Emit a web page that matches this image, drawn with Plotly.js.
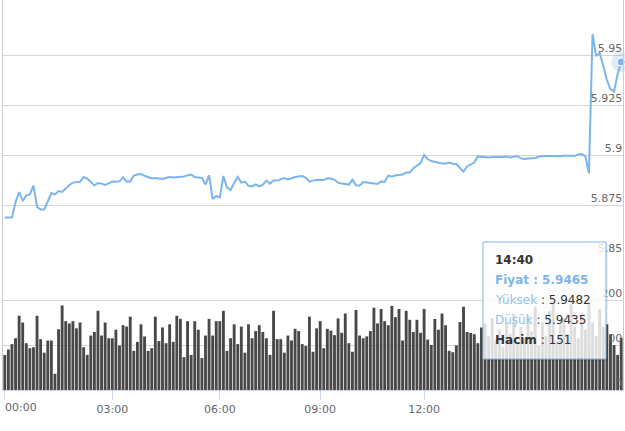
<!DOCTYPE html>
<html><head><meta charset="utf-8">
<script src="https://cdn.plot.ly/plotly-3.0.1.min.js"></script>
<style>html,body{margin:0;padding:0;background:#fff}#chart{width:625px;height:431px}</style>
</head><body><div id="chart"></div><script>
const price = [
5.8687,5.8687,5.8687,5.8765,5.8815,5.877,5.8798,5.8803,5.8847,5.874,
5.8728,5.8728,5.877,5.881,5.8803,5.882,5.8815,5.8833,5.885,5.8862,
5.8865,5.8866,5.889,5.8882,5.8865,5.8848,5.886,5.8857,5.885,5.8858,
5.8867,5.8866,5.8868,5.8888,5.8868,5.8868,5.8897,5.8902,5.8905,5.8896,
5.8888,5.8883,5.8885,5.8884,5.888,5.8886,5.889,5.8888,5.8889,5.889,
5.8893,5.8898,5.8902,5.889,5.8888,5.8885,5.8852,5.8898,5.878,5.8795,
5.8788,5.8895,5.8837,5.8825,5.886,5.889,5.8862,5.8867,5.8846,5.8843,
5.8853,5.8843,5.8852,5.8872,5.8857,5.8873,5.8872,5.888,5.8885,5.8878,
5.8885,5.889,5.8893,5.8895,5.8886,5.8867,5.8872,5.8876,5.8875,5.8875,
5.8884,5.8882,5.8876,5.8862,5.8857,5.8854,5.8852,5.8876,5.8848,5.8847,
5.8865,5.8863,5.886,5.8858,5.8855,5.8868,5.8865,5.8897,5.8893,5.8897,
5.8899,5.8902,5.8912,5.8912,5.8934,5.8946,5.896,5.9,5.898,5.897,
5.8966,5.896,5.8958,5.8958,5.8962,5.8956,5.8955,5.8935,5.8918,5.8943,
5.8953,5.8962,5.8993,5.8991,5.8991,5.8988,5.899,5.8989,5.8988,5.899,
5.8992,5.8988,5.8991,5.8995,5.8983,5.898,5.8982,5.8983,5.8985,5.8992,
5.8995,5.8995,5.8995,5.8994,5.8993,5.8994,5.8996,5.8997,5.8996,5.8995,
5.9003,5.9005,5.8993,5.8908,5.9605,5.9495,5.951,5.9445,5.9375,5.933,
5.9318,5.9405,5.9465
];
const volume = [
78,90,102,115,165,150,104,93,95,165,
113,83,110,110,36,135,188,153,148,153,
137,150,95,78,121,129,176,121,150,115,
115,134,99,144,141,163,87,107,146,119,
87,93,163,109,139,104,146,107,165,158,
73,153,78,153,134,71,121,158,121,153,
153,176,87,115,146,102,141,83,146,115,
131,144,129,115,78,176,113,113,83,121,
110,136,131,102,98,163,85,137,153,93,
136,132,122,159,127,170,104,85,178,121,
115,119,131,183,148,180,153,144,187,162,
180,110,176,156,129,156,127,180,112,100,
158,134,170,144,87,84,99,151,185,129,
127,124,104,139,148,120,160,110,135,95,
150,125,170,105,140,115,165,130,185,100,
150,120,175,195,110,145,160,125,190,140,
115,170,135,195,150,120,180,140,146,124,
100,78,116
];
const tickIdx = [0, 30, 60, 88, 117];
const tickLabels = ['00:00', '03:00', '06:00', '09:00', '12:00'];
const priceTicks = [5.85, 5.875, 5.9, 5.925, 5.95];
const priceTickText = ['5.85', '5.875', '5.9', '5.925', '5.95'];
const volumeTicks = [0, 100, 200];
const tipTime = '14:40';
const tipPrice = '5.9465';
const tipHigh = '5.9482';
const tipLow = '5.9435';
const tipVolume = '151';

const idx = price.map((_, i) => i);
const last = price.length - 1;
const FONT = 'DejaVu Sans';
const BLUE = '#7cb5ec';

const traces = [
  {type: 'bar', x: idx, y: volume, xaxis: 'x', yaxis: 'y2',
   marker: {color: '#484848', line: {width: 0}}, hoverinfo: 'skip'},
  {type: 'scatter', mode: 'lines', x: idx, y: price, xaxis: 'x', yaxis: 'y',
   line: {color: BLUE, width: 2}, hoverinfo: 'skip'},
  {type: 'scatter', mode: 'markers', x: [idx[last]], y: [price[last]], xaxis: 'x', yaxis: 'y',
   marker: {color: 'rgba(124,181,236,0.25)', size: 20}, cliponaxis: false, hoverinfo: 'skip'},
  {type: 'scatter', mode: 'markers', x: [idx[last]], y: [price[last]], xaxis: 'x', yaxis: 'y',
   marker: {color: BLUE, size: 8, line: {color: '#fff', width: 1}}, cliponaxis: false, hoverinfo: 'skip'}
];

const W = 620, H = 390, L = 3;
const px = v => (v - L) / W;
const py = v => (H - v) / H;
const tipX = px(493);
const tipLines = [
  {y: 259.5, t: '<b>' + tipTime + '</b>'},
  {y: 279.5, t: '<span style="color:' + BLUE + '"><b>Fiyat : ' + tipPrice + '</b></span>'},
  {y: 299.5, t: '<span style="color:#93c2ef">Yüksek</span> : ' + tipHigh},
  {y: 319.5, t: '<span style="color:#93c2ef">Düşük</span> : ' + tipLow},
  {y: 339.5, t: '<b>Hacim</b> : ' + tipVolume}
];
const annotations = tipLines.map(l => ({
  xref: 'paper', yref: 'paper', x: tipX, y: py(l.y), xanchor: 'left', yanchor: 'middle',
  text: l.t, showarrow: false, font: {family: FONT, size: 12, color: '#333'}
}));
annotations.push({
  xref: 'x', yref: 'paper', x: -0.5, y: py(407), xanchor: 'left', yanchor: 'middle',
  text: tickLabels[0], showarrow: false, font: {family: FONT, size: 11, color: '#666'}
});

const layout = {
  width: 625, height: 431,
  margin: {l: 3, r: 2, t: 0, b: 41},
  paper_bgcolor: '#fff', plot_bgcolor: '#fff',
  showlegend: false, bargap: 0.2, hovermode: false,
  xaxis: {
    range: [-0.5, price.length - 0.5], anchor: 'y2',
    tickmode: 'array', tickvals: tickIdx, ticktext: tickLabels.map((t, i) => i === 0 ? '' : t),
    ticks: 'outside', ticklen: 9, tickcolor: '#ccd6eb', tickwidth: 1,
    showline: true, linecolor: '#ccd6eb', linewidth: 1,
    showgrid: false, zeroline: false,
    tickfont: {family: FONT, size: 11, color: '#666'}
  },
  yaxis: {
    domain: [135 / 390, 1], range: [5.85, 5.9775], anchor: 'x', side: 'right',
    tickmode: 'array', tickvals: priceTicks, ticktext: priceTickText,
    ticklabelposition: 'inside', ticklabelshift: -7, ticks: '',
    gridcolor: '#d6d6d6', gridwidth: 1, zeroline: false,
    showline: true, mirror: true, linecolor: '#cccccc', linewidth: 1,
    tickfont: {family: FONT, size: 11, color: '#666'}
  },
  yaxis2: {
    domain: [0, 135 / 390], range: [0, 300], anchor: 'x', side: 'right',
    tickmode: 'array', tickvals: volumeTicks,
    ticklabelposition: 'inside', ticklabelshift: -7, ticks: '',
    gridcolor: '#d6d6d6', gridwidth: 1, zeroline: false,
    showline: true, mirror: true, linecolor: '#cccccc', linewidth: 1,
    tickfont: {family: FONT, size: 11, color: '#666'}
  },
  shapes: [
    {type: 'rect', xref: 'paper', yref: 'paper', x0: px(485), x1: px(608), y0: py(361), y1: py(244),
     fillcolor: 'rgba(0,0,0,0.06)', line: {width: 0}, layer: 'above'},
    {type: 'rect', xref: 'paper', yref: 'paper', x0: px(483), x1: px(606), y0: py(359), y1: py(242),
     fillcolor: 'rgba(255,255,255,0.82)', line: {color: BLUE, width: 1}, layer: 'above'}
  ],
  annotations: annotations
};

Plotly.newPlot('chart', traces, layout, {displayModeBar: false, staticPlot: true});
</script></body></html>
